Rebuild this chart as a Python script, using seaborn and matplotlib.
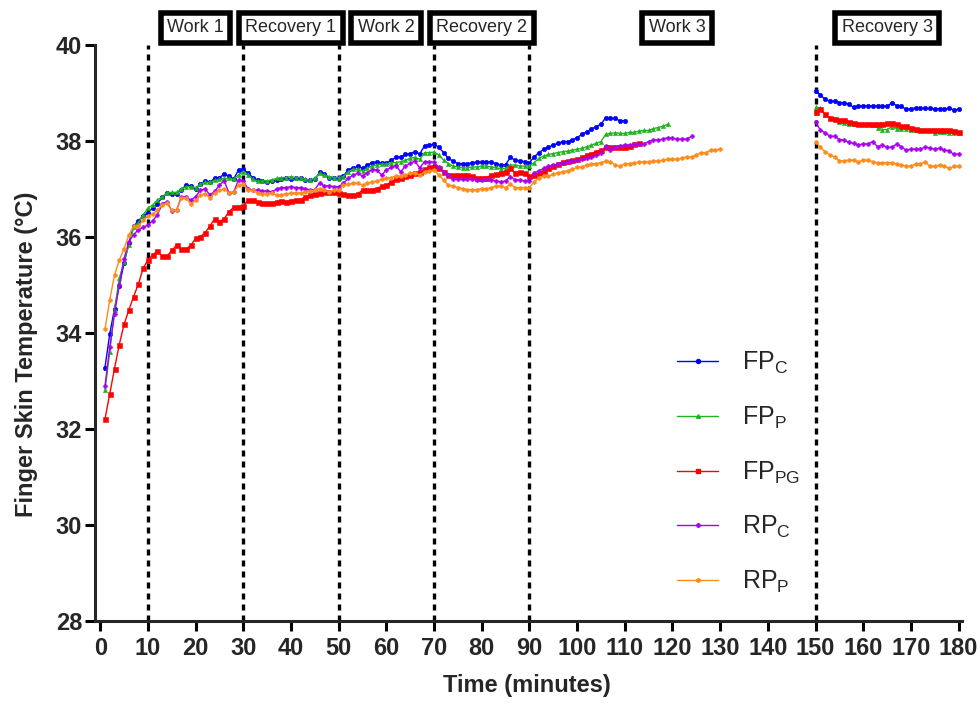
import numpy as np
import pandas as pd
import matplotlib
matplotlib.use("Agg")
import matplotlib.pyplot as plt
from matplotlib import font_manager
from matplotlib.lines import Line2D
from matplotlib.transforms import blended_transform_factory
import seaborn as sns

# ---------------- data (°C, one reading per minute) ----------------
series_names = ["FP_C", "FP_P", "FP_PG", "RP_C", "RP_P"]

fpc_main = [33.28, 33.98, 34.51, 34.99, 35.45, 35.88, 36.22, 36.34, 36.44, 36.51,
            36.60, 36.69, 36.83, 36.91, 36.90, 36.90, 36.99, 37.08, 37.06, 37.00,
            37.10, 37.17, 37.15, 37.22, 37.24, 37.31, 37.27, 37.21, 37.40, 37.41,
            37.33, 37.24, 37.19, 37.17, 37.15, 37.16, 37.18, 37.20, 37.22, 37.21,
            37.22, 37.22, 37.19, 37.19, 37.20, 37.35, 37.31, 37.24, 37.24, 37.24,
            37.27, 37.40, 37.44, 37.47, 37.43, 37.50, 37.55, 37.57, 37.54, 37.54,
            37.60, 37.66, 37.67, 37.72, 37.74, 37.78, 37.73, 37.90, 37.92, 37.93,
            37.87, 37.76, 37.64, 37.58, 37.53, 37.53, 37.53, 37.55, 37.56, 37.56,
            37.56, 37.56, 37.53, 37.50, 37.51, 37.66, 37.60, 37.59, 37.57, 37.55,
            37.67, 37.76, 37.83, 37.87, 37.92, 37.95, 37.99, 37.99, 38.02, 38.07,
            38.14, 38.19, 38.25, 38.30, 38.35, 38.49, 38.47, 38.47, 38.42, 38.42]
fpp_main = [32.81, 33.61, 34.48, 35.14, 35.49, 35.83, 36.20, 36.30, 36.46, 36.60,
            36.67, 36.77, 36.84, 36.92, 36.93, 36.93, 37.00, 37.05, 37.05, 37.03,
            37.10, 37.14, 37.14, 37.18, 37.20, 37.22, 37.22, 37.20, 37.30, 37.36,
            37.30, 37.20, 37.17, 37.17, 37.17, 37.19, 37.22, 37.24, 37.24, 37.26,
            37.24, 37.24, 37.20, 37.19, 37.22, 37.33, 37.29, 37.26, 37.24, 37.24,
            37.26, 37.36, 37.41, 37.41, 37.38, 37.43, 37.48, 37.50, 37.52, 37.52,
            37.55, 37.55, 37.57, 37.60, 37.64, 37.66, 37.62, 37.76, 37.76, 37.77,
            37.71, 37.60, 37.53, 37.48, 37.46, 37.44, 37.44, 37.46, 37.46, 37.48,
            37.48, 37.46, 37.45, 37.42, 37.43, 37.50, 37.50, 37.48, 37.48, 37.49,
            37.55, 37.64, 37.69, 37.72, 37.74, 37.76, 37.78, 37.79, 37.81, 37.83,
            37.85, 37.88, 37.92, 37.95, 37.99, 38.14, 38.16, 38.17, 38.16, 38.16,
            38.18, 38.18, 38.21, 38.22, 38.22, 38.26, 38.28, 38.31, 38.35]
fppg_main = [32.21, 32.73, 33.26, 33.76, 34.18, 34.48, 34.76, 35.02, 35.35, 35.52,
             35.63, 35.71, 35.60, 35.60, 35.72, 35.83, 35.75, 35.75, 35.83, 35.97,
             36.01, 36.09, 36.23, 36.38, 36.32, 36.38, 36.53, 36.62, 36.63, 36.65,
             36.77, 36.77, 36.74, 36.70, 36.71, 36.71, 36.74, 36.76, 36.74, 36.76,
             36.78, 36.78, 36.84, 36.87, 36.90, 36.91, 36.94, 36.94, 36.94, 36.92,
             36.90, 36.87, 36.87, 36.90, 36.98, 36.98, 36.99, 37.01, 37.06, 37.08,
             37.15, 37.20, 37.24, 37.27, 37.29, 37.33, 37.36, 37.41, 37.45, 37.45,
             37.43, 37.36, 37.29, 37.29, 37.29, 37.29, 37.29, 37.27, 37.24, 37.24,
             37.24, 37.29, 37.31, 37.34, 37.36, 37.43, 37.34, 37.36, 37.33, 37.27,
             37.29, 37.33, 37.38, 37.43, 37.48, 37.53, 37.57, 37.59, 37.60, 37.62,
             37.66, 37.71, 37.74, 37.78, 37.81, 37.87, 37.87, 37.87, 37.87, 37.88,
             37.90, 37.94, 37.95]
rpc_main = [32.90, 33.70, 34.40, 35.00, 35.55, 35.90, 36.05, 36.15, 36.20, 36.25,
            36.34, 36.46, 36.69, 36.74, 36.55, 36.56, 36.83, 36.84, 36.77, 36.84,
            36.98, 37.00, 36.88, 36.95, 37.08, 37.17, 36.92, 36.94, 37.19, 37.17,
            37.00, 36.98, 36.98, 36.96, 36.96, 36.94, 37.00, 37.03, 37.03, 37.05,
            37.03, 37.03, 37.01, 36.98, 36.99, 37.13, 37.06, 37.07, 37.05, 37.05,
            37.12, 37.22, 37.29, 37.33, 37.27, 37.34, 37.40, 37.40, 37.29, 37.40,
            37.45, 37.49, 37.36, 37.48, 37.54, 37.58, 37.44, 37.57, 37.57, 37.56,
            37.45, 37.36, 37.29, 37.20, 37.20, 37.20, 37.20, 37.20, 37.19, 37.19,
            37.20, 37.19, 37.17, 37.15, 37.17, 37.26, 37.19, 37.19, 37.17, 37.17,
            37.34, 37.38, 37.43, 37.47, 37.50, 37.52, 37.55, 37.57, 37.59, 37.60,
            37.62, 37.64, 37.66, 37.71, 37.76, 37.90, 37.81, 37.88, 37.90, 37.92,
            37.92, 37.93, 37.94, 37.94, 37.99, 38.02, 38.02, 38.04, 38.07, 38.06,
            38.04, 38.04, 38.04, 38.10]
rpp_main = [34.08, 34.69, 35.21, 35.52, 35.76, 36.04, 36.23, 36.23, 36.35, 36.44,
            36.49, 36.56, 36.67, 36.70, 36.56, 36.56, 36.81, 36.82, 36.68, 36.77,
            36.88, 36.90, 36.82, 36.91, 36.98, 37.00, 36.92, 36.94, 37.08, 37.10,
            36.98, 36.97, 36.92, 36.90, 36.90, 36.91, 36.87, 36.88, 36.90, 36.91,
            36.92, 36.92, 36.94, 36.96, 36.98, 37.01, 36.98, 36.94, 36.98, 36.97,
            37.08, 37.10, 37.12, 37.12, 37.08, 37.12, 37.15, 37.17, 37.20, 37.22,
            37.24, 37.27, 37.27, 37.29, 37.33, 37.34, 37.29, 37.36, 37.38, 37.40,
            37.29, 37.19, 37.08, 37.06, 37.03, 37.01, 36.98, 36.99, 36.99, 37.01,
            37.01, 37.03, 37.06, 37.06, 37.03, 37.10, 37.03, 37.03, 37.03, 37.03,
            37.15, 37.24, 37.27, 37.27, 37.31, 37.34, 37.36, 37.38, 37.41, 37.45,
            37.46, 37.50, 37.52, 37.53, 37.55, 37.58, 37.57, 37.50, 37.48, 37.52,
            37.53, 37.55, 37.56, 37.57, 37.57, 37.58, 37.59, 37.60, 37.62, 37.62,
            37.62, 37.65, 37.67, 37.67, 37.71, 37.76, 37.76, 37.81, 37.81, 37.83]

# Recovery 3 readings, minutes 150-180
recovery_start = 150
fpc_rec = [39.05, 38.96, 38.87, 38.83, 38.83, 38.80, 38.80, 38.77, 38.70, 38.72,
           38.73, 38.73, 38.73, 38.73, 38.73, 38.72, 38.80, 38.74, 38.72, 38.66,
           38.67, 38.69, 38.68, 38.68, 38.68, 38.67, 38.67, 38.67, 38.68, 38.65, 38.66]
fpp_rec = [38.70, 38.68, 38.54, 38.49, 38.45, 38.40, 38.37, 38.35, 38.35, 38.35,
           38.35, 38.35, 38.33, 38.28, 38.24, 38.24, 38.30, 38.26, 38.26, 38.26,
           38.23, 38.23, 38.23, 38.22, 38.22, 38.17, 38.19, 38.19, 38.17, 38.16, 38.16]
fppg_rec = [38.61, 38.66, 38.56, 38.47, 38.45, 38.44, 38.44, 38.40, 38.38, 38.35,
            38.35, 38.35, 38.35, 38.35, 38.35, 38.38, 38.38, 38.35, 38.31, 38.31,
            38.28, 38.26, 38.24, 38.23, 38.23, 38.24, 38.23, 38.22, 38.22, 38.21, 38.19]
rpc_rec = [38.40, 38.23, 38.17, 38.10, 38.10, 38.03, 38.02, 37.97, 37.95, 37.92,
           37.94, 37.94, 37.99, 37.88, 37.92, 37.87, 37.87, 37.94, 37.88, 37.81,
           37.83, 37.83, 37.83, 37.88, 37.85, 37.83, 37.85, 37.81, 37.80, 37.72, 37.73]
rpp_rec = [37.99, 37.87, 37.78, 37.71, 37.67, 37.59, 37.59, 37.60, 37.60, 37.57,
           37.60, 37.60, 37.57, 37.54, 37.55, 37.55, 37.55, 37.52, 37.50, 37.48,
           37.48, 37.52, 37.52, 37.57, 37.47, 37.47, 37.50, 37.48, 37.43, 37.47, 37.47]

legend_labels = [r"FP$_\mathregular{C}$", r"FP$_\mathregular{P}$", r"FP$_\mathregular{PG}$",
                 r"RP$_\mathregular{C}$", r"RP$_\mathregular{P}$"]

phase_lines = [10, 30, 50, 70, 90, 150]
phase_labels = ["Work 1", "Recovery 1", "Work 2", "Recovery 2", "Work 3", "Recovery 3"]
phase_centres = [20, 40, 60, 80, 121, 165]

x_ticks = list(range(0, 181, 10))
y_ticks = list(range(28, 41, 2))

# ---------------- long table ----------------
main_sets = [fpc_main, fpp_main, fppg_main, rpc_main, rpp_main]
rec_sets = [fpc_rec, fpp_rec, fppg_rec, rpc_rec, rpp_rec]
rows = []
for name, main, rec in zip(series_names, main_sets, rec_sets):
    for i, v in enumerate(main):
        rows.append((name, i + 1, v, 0))
    for i, v in enumerate(rec):
        rows.append((name, recovery_start + i, v, 1))
df = pd.DataFrame(rows, columns=["series", "minute", "temp", "segment"])

# ---------------- styling ----------------
sns.set_style("ticks")
plt.rcParams["font.family"] = ["Liberation Sans", "DejaVu Sans"]
plt.rcParams["mathtext.default"] = "regular"

names = {f.name for f in font_manager.fontManager.ttflist}
tick_family = "Liberation Sans Narrow" if "Liberation Sans Narrow" in names else "Liberation Sans"

colors = {"FP_C": "#0000FF", "FP_P": "#1DB41D", "FP_PG": "#FF0000",
          "RP_C": "#A800EE", "RP_P": "#FF8C1A"}
markers = {"FP_C": "o", "FP_P": "^", "FP_PG": "s", "RP_C": "P", "RP_P": "h"}
msizes = {"FP_C": 3.2, "FP_P": 3.0, "FP_PG": 3.6, "RP_C": 3.0, "RP_P": 3.0}

fig = plt.figure(figsize=(9.8, 7.05), dpi=100)
ax = fig.add_axes([0.0969, 0.1191, 0.8847, 0.8170])

for name in series_names:
    sns.lineplot(data=df[df["series"] == name], x="minute", y="temp",
                 units="segment", estimator=None, color=colors[name],
                 marker=markers[name], markersize=msizes[name],
                 markeredgecolor=colors[name], markeredgewidth=0.4,
                 linewidth=1.0, legend=False, ax=ax, zorder=3)

for x in phase_lines:
    ax.axvline(x, color="black", linestyle=(0, (1.8, 1.5)), linewidth=2.4, zorder=2)

trans = blended_transform_factory(ax.transData, ax.transAxes)
for cx, lab in zip(phase_centres, phase_labels):
    ax.text(cx, 1.0300, lab, transform=trans, ha="center", va="center",
            fontsize=13, clip_on=False, zorder=5,
            bbox=dict(boxstyle="square,pad=0.36", fc="white", ec="black", lw=4))

ax.set_xlim(-1.1, 180.7)
ax.set_ylim(28, 40)
ax.set_xticks(x_ticks)
ax.set_yticks(y_ticks)
ax.set_xticklabels([str(v) for v in x_ticks])
ax.set_yticklabels([str(v) for v in y_ticks])
for lab in ax.get_xticklabels() + ax.get_yticklabels():
    lab.set_fontfamily(tick_family)
    lab.set_fontweight("bold")
    lab.set_fontsize(17)

sns.despine(ax=ax)
for side in ("left", "bottom"):
    ax.spines[side].set_linewidth(2.2)
ax.tick_params(axis="both", which="major", length=7.2, width=2.2, color="black")
ax.tick_params(axis="x", pad=4)
ax.tick_params(axis="y", pad=2)

ax.set_xlabel("Time (minutes)", fontsize=17, fontweight="bold")
ax.set_ylabel("Finger Skin Temperature (°C)", fontsize=17, fontweight="bold")
ax.xaxis.set_label_coords(0.498, -0.092)
ax.yaxis.set_label_coords(-0.066, 0.4635)

handles = [Line2D([], [], color=colors[n], marker=markers[n], markersize=msizes[n] * 0.9,
                  markeredgecolor=colors[n], linewidth=1.0) for n in series_names]
ax.legend(handles, legend_labels, loc="upper left", bbox_to_anchor=(0.691, 0.5035),
          bbox_transform=fig.transFigure, frameon=False, fontsize=18,
          handlelength=1.65, handletextpad=0.95, labelspacing=1.14,
          borderpad=0, borderaxespad=0)

fig.savefig("out.png", dpi=100)
